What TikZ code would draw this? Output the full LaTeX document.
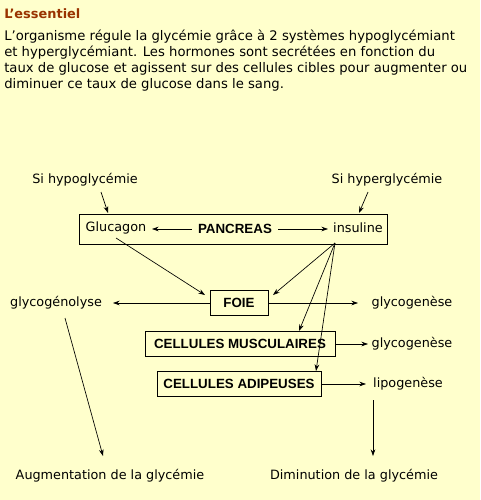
\documentclass[tikz,border=0pt]{standalone}
\usepackage{fontspec}
\setmainfont{DejaVu Sans}
\newfontfamily\boxfont{Liberation Sans}
\usetikzlibrary{arrows.meta}
\definecolor{bg}{HTML}{FFFFCC}
\definecolor{titlebrown}{HTML}{993300}
\tikzset{
  para/.style={inner sep=0pt, anchor=west, font=\fontsize{9.9}{12}\selectfont},
  lbl/.style={inner sep=0pt, font=\fontsize{9.6}{11}\selectfont},
  organ/.style={draw, line width=0.6pt, inner sep=0pt, font=\boxfont\bfseries\fontsize{10}{12}\selectfont},
  arr/.style={-{Stealth[length=5pt,width=3.5pt]}, line width=0.5pt},
  ln/.style={line width=0.5pt}
}
\begin{document}
\begin{tikzpicture}[x=0.75pt,y=-0.75pt]
\fill[bg] (0,0) rectangle (480,500);
\useasboundingbox (0,0) rectangle (480,500);
% header
\node[para, font=\bfseries\fontsize{9.7}{11}\selectfont, text=titlebrown] (title) at (4,14) {L’essentiel};
\node[para] (p1) at (4,37) {L’organisme régule la glycémie grâce à 2 systèmes hypoglycémiant};
\node[para] (p2) at (4,53) {et hyperglycémiant. Les hormones sont secrétées en fonction du};
\node[para] (p3) at (4,69) {taux de glucose et agissent sur des cellules cibles pour augmenter ou};
\node[para] (p4) at (4,85) {diminuer ce taux de glucose dans le sang.};
% pancreas box
\node[draw, line width=0.6pt, minimum width=308*0.75pt, minimum height=30*0.75pt, inner sep=0pt] (pbox) at (233,229) {};
\node[lbl] (gluc) at (116,228) {Glucagon};
\node[organ, draw=none] (panc) at (235,229) {PANCREAS};
\node[lbl] (ins) at (358,228) {insuline};
\coordinate (gl) at (152,229);
\coordinate (in) at (328,229);
\draw[arr] (panc.west) ++(-6,0) coordinate (pw) -- (gl);
\draw[arr] (panc.east) ++(6,0) coordinate (pe) -- (in);
% triggers
\node[lbl] (hypo) at (85,180) {Si hypoglycémie};
\node[lbl] (hyper) at (387,180) {Si hyperglycémie};
\coordinate (hypoS) at (101,192);
\coordinate (hypoE) at (108,213);
\coordinate (hyperS) at (368,192);
\coordinate (hyperE) at (359,213);
\draw[arr] (hypoS) -- (hypoE);
\draw[arr] (hyperS) -- (hyperE);
% organs
\node[organ, minimum width=58*0.75pt, minimum height=25*0.75pt] (foie) at (239,303) {FOIE};
\node[organ, minimum width=190*0.75pt, minimum height=25*0.75pt] (cm) at (240,344) {CELLULES MUSCULAIRES};
\node[organ, minimum width=164*0.75pt, minimum height=25*0.75pt] (ca) at (239,384) {CELLULES ADIPEUSES};
% outcomes
\node[lbl] (glyco) at (56,303) {glycogénolyse};
\node[lbl] (gen1) at (412,303) {glycogenèse};
\node[lbl] (gen2) at (412,344) {glycogenèse};
\node[lbl] (lipo) at (408,384) {lipogenèse};
\node[lbl] (aug) at (110,476) {Augmentation de la glycémie};
\node[lbl] (dim) at (354,476) {Diminution de la glycémie};
% connectors
\coordinate (glucS) at (116,238);
\coordinate (insS) at (335,243);
\draw[arr] (glucS) -- (205,295);
\draw[arr] (insS) -- (273,295);
\draw[arr] (insS) -- (299,331);
\draw[arr] (insS) -- (316,371);
\draw[arr] (foie.west) -- (113,303);
\draw[arr] (foie.east) -- (358,303);
\draw[arr] (cm.east) -- (368,344);
\draw[arr] (ca.east) -- (366,384);
\coordinate (lipoS) at (373,400);
\coordinate (lipoE) at (373,456);
\draw[arr] (lipoS) -- (lipoE);
\coordinate (glycoS) at (65,318);
\coordinate (glycoE) at (103,456);
\draw[arr] (glycoS) -- (glycoE);
\end{tikzpicture}
\end{document}
